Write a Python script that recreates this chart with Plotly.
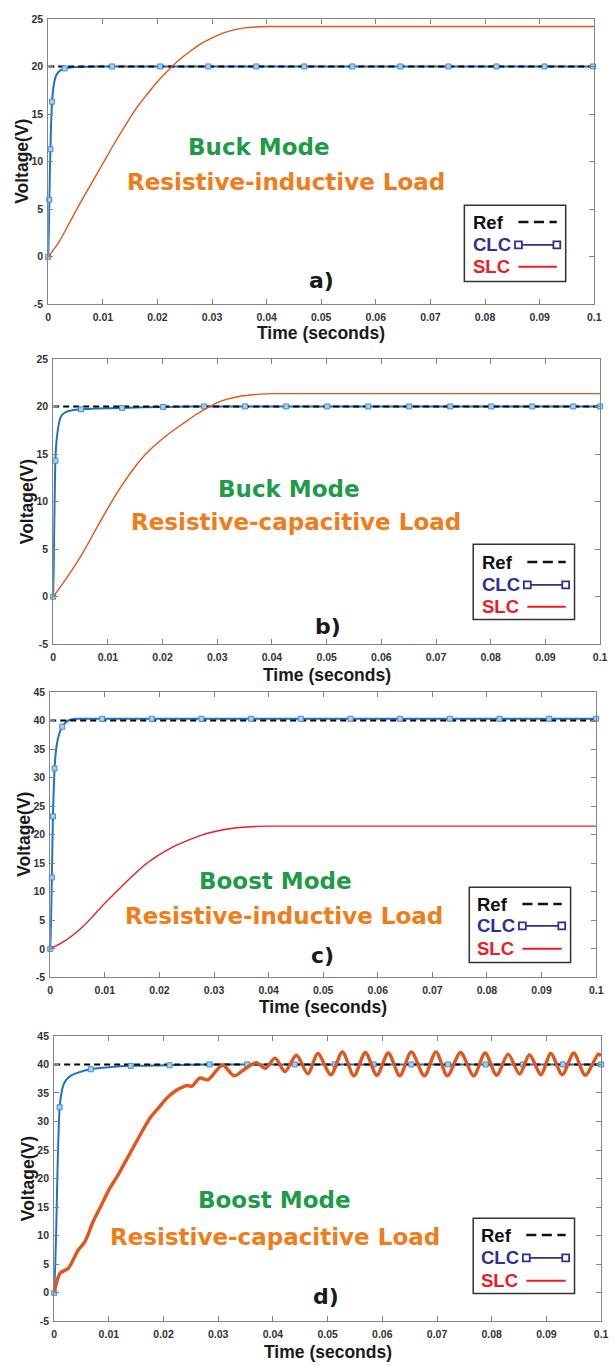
import plotly.graph_objects as go

W, H = 614, 1366

# ---------------- shared axis ticks ----------------
time_ticks = [0, 0.01, 0.02, 0.03, 0.04, 0.05, 0.06, 0.07, 0.08, 0.09, 0.1]
time_tick_text = ["0", "0.01", "0.02", "0.03", "0.04", "0.05", "0.06", "0.07", "0.08", "0.09", "0.1"]
volt_ticks_buck = [-5, 0, 5, 10, 15, 20, 25]
volt_ticks_boost = [-5, 0, 5, 10, 15, 20, 25, 30, 35, 40, 45]

# ---------------- a) Buck mode, resistive-inductive load ----------------
a_ref_t = [0, 0.1]
a_ref_v = [20, 20]
a_clc_t = [0, 0.0001, 0.0002, 0.0003, 0.0004, 0.0005, 0.0007, 0.001, 0.0014, 0.002, 0.003, 0.005, 0.01, 0.1]
a_clc_v = [0, 2.5, 6.0, 9.0, 11.3, 13.6, 16.3, 18.0, 19.0, 19.5, 19.8, 19.95, 20.0, 20.0]
a_mk_t = [0, 0.0002, 0.0004, 0.0007, 0.003, 0.0117, 0.0205, 0.0293, 0.0381, 0.0469,
          0.0557, 0.0645, 0.0733, 0.0821, 0.0909, 0.0998]
a_mk_v = [0, 6.0, 11.3, 16.3, 19.8, 20, 20, 20, 20, 20, 20, 20, 20, 20, 20, 20]
a_slc_t = [0, 0.002, 0.004, 0.006, 0.008, 0.010, 0.012, 0.014, 0.016, 0.018, 0.020, 0.022,
           0.024, 0.026, 0.028, 0.030, 0.032, 0.034, 0.036, 0.038, 0.040, 0.042, 0.1]
a_slc_v = [0, 1.6, 3.7, 5.8, 7.8, 9.8, 11.8, 13.7, 15.5, 17.0, 18.4, 19.6,
           20.7, 21.6, 22.4, 23.0, 23.5, 23.85, 24.05, 24.15, 24.2, 24.2, 24.2]

# ---------------- b) Buck mode, resistive-capacitive load ----------------
b_ref_t = [0, 0.1]
b_ref_v = [20, 20]
b_clc_t = [0, 0.0001, 0.0002, 0.0003, 0.0004, 0.0006, 0.0009, 0.0013, 0.0018, 0.0025,
           0.0035, 0.0051, 0.008, 0.0126, 0.0201, 0.03, 0.1]
b_clc_v = [0, 3.5, 7.5, 11.2, 14.3, 16.3, 17.7, 18.8, 19.2, 19.45,
           19.6, 19.7, 19.78, 19.85, 19.95, 20.0, 20.0]
b_mk_t = [0, 0.0004, 0.0051, 0.0126, 0.0201, 0.0276, 0.0351, 0.0426, 0.0501, 0.0576,
          0.0651, 0.0726, 0.0801, 0.0876, 0.0951, 0.1]
b_mk_v = [0, 14.3, 19.7, 19.85, 19.95, 20, 20, 20, 20, 20, 20, 20, 20, 20, 20, 20]
b_slc_t = [0, 0.002, 0.004, 0.006, 0.008, 0.010, 0.012, 0.014, 0.016, 0.018, 0.020, 0.022,
           0.024, 0.026, 0.028, 0.030, 0.032, 0.034, 0.036, 0.038, 0.040, 0.042, 0.1]
b_slc_v = [0, 1.6, 3.3, 5.2, 7.3, 9.3, 11.2, 12.9, 14.4, 15.6, 16.6, 17.5,
           18.3, 19.1, 19.8, 20.4, 20.8, 21.05, 21.2, 21.3, 21.35, 21.35, 21.35]

# ---------------- c) Boost mode, resistive-inductive load ----------------
c_ref_t = [0, 0.1]
c_ref_v = [40, 40]
c_clc_t = [0, 0.0001, 0.0002, 0.0003, 0.0004, 0.0005, 0.0006, 0.0008, 0.001, 0.0013,
           0.0017, 0.0022, 0.003, 0.004, 0.005, 0.1]
c_clc_v = [0, 3.0, 7.5, 12.5, 18.0, 23.2, 26.8, 31.6, 34.2, 36.3,
           37.8, 38.9, 39.8, 40.2, 40.3, 40.3]
c_mk_t = [0, 0.0003, 0.0005, 0.0008, 0.0022, 0.0095, 0.0186, 0.0277, 0.0368, 0.0459,
          0.055, 0.0641, 0.0732, 0.0823, 0.0914, 0.1]
c_mk_v = [0, 12.5, 23.2, 31.6, 38.9, 40.3, 40.3, 40.3, 40.3, 40.3, 40.3, 40.3, 40.3, 40.3, 40.3, 40.3]
c_slc_t = [0, 0.002, 0.004, 0.006, 0.008, 0.010, 0.012, 0.014, 0.016, 0.018, 0.020, 0.022,
           0.024, 0.026, 0.028, 0.030, 0.032, 0.034, 0.036, 0.038, 0.040, 0.1]
c_slc_v = [0, 1.0, 2.3, 3.9, 5.9, 8.0, 9.9, 11.8, 13.6, 15.2, 16.5, 17.6,
           18.5, 19.3, 20.0, 20.5, 20.9, 21.2, 21.35, 21.45, 21.5, 21.5]

# ---------------- d) Boost mode, resistive-capacitive load ----------------
d_ref_t = [0, 0.1]
d_ref_v = [40, 40]
d_clc_t = [0, 0.0002, 0.0004, 0.0006, 0.0008, 0.001, 0.0013, 0.0017, 0.0022, 0.003,
           0.0045, 0.0067, 0.01, 0.014, 0.0211, 0.0284, 0.04, 0.1]
d_clc_v = [0, 5, 12, 21, 28, 32.5, 34.8, 36.4, 37.3, 38.0,
           38.6, 39.15, 39.5, 39.75, 39.85, 40.0, 40.0, 40.0]
d_mk_t = [0, 0.001, 0.0067, 0.014, 0.0211, 0.0284, 0.0353, 0.044, 0.0513, 0.0584,
          0.0653, 0.072, 0.0789, 0.0857, 0.093, 0.1]
d_mk_v = [0, 32.5, 39.15, 39.75, 39.85, 40, 40, 40, 40, 40, 40, 40, 40, 40, 40, 40]
d_slc_t = [0, 0.0005, 0.0011, 0.0026, 0.0035, 0.0044, 0.0056, 0.0071, 0.0086, 0.0101,
           0.0116, 0.0131, 0.0146, 0.0161, 0.0176, 0.0191, 0.0206, 0.0221, 0.0232, 0.0242,
           0.0252, 0.0266, 0.0281, 0.0308, 0.0329, 0.0350, 0.0370, 0.0386, 0.0404, 0.0422,
           0.0443, 0.0464, 0.0482, 0.0506, 0.0527, 0.0548, 0.0569, 0.0590, 0.0611, 0.0632,
           0.0653, 0.0677, 0.0698, 0.0719, 0.0743, 0.0767, 0.0788, 0.0809, 0.0830, 0.0851,
           0.0869, 0.0890, 0.0908, 0.0929, 0.0950, 0.0971, 0.0995, 0.1]
d_slc_v = [0, 2.0, 3.45, 4.3, 5.8, 7.5, 8.9, 12.4, 15.3, 18.2,
           20.5, 23.1, 25.7, 28.3, 30.7, 32.4, 34.1, 35.3, 35.9, 36.3,
           36.2, 37.6, 37.3, 39.9, 38.0, 39.3, 40.3, 39.3, 41.1, 38.75,
           41.6, 38.35, 41.9, 38.2, 42.2, 38.0, 42.1, 38.1, 42.0, 38.0,
           42.2, 38.0, 42.2, 38.0, 42.1, 38.0, 42.0, 38.1, 41.8, 38.3,
           41.7, 38.2, 41.9, 38.2, 42.0, 38.1, 41.8, 41.5]

mode_titles = ["Buck Mode", "Buck Mode", "Boost Mode", "Boost Mode"]
load_titles = ["Resistive-inductive Load", "Resistive-capacitive Load",
               "Resistive-inductive Load", "Resistive-capacitive Load"]
panel_tags = ["a)", "b)", "c)", "d)"]
legend_names = ["Ref", "CLC", "SLC"]

# ---------------- styling ----------------
CLC_LINE = "#1c74c2"
CLC_MK_FILL = "#a9cdeb"
CLC_MK_EDGE = "#3f8ed3"
SLC_ORANGE = "#e0561c"
SLC_RED = "#ee1c25"
GREEN = "#1e9a48"
ORANGE_TXT = "#f07c1a"
AX_GRAY = "#858585"
TICK_TXT = "#333333"
LEG_NAVY = "#2e3192"
LEG_RED = "#ed1c24"
ARIAL = "Liberation Sans, Arial, sans-serif"
WIDE = "DejaVu Sans, sans-serif"

# pixel layout of each panel: plot box, text positions
panels = [
    dict(x0=46, x1=601, top=13, bot=301, ylo=-5, yhi=25, yt=volt_ticks_buck,
         mode=(260, 142), load=(288, 178), tag=(324, 277), xt=(323, 330), yl=(18.5, 157),
         leg=(469, 201, 572, 278), rows=(218, 241, 263), tl=476, smp=(524, 563)),
    dict(x0=51, x1=607, top=356, bot=644, ylo=-5, yhi=25, yt=volt_ticks_buck,
         mode=(291, 487), load=(298, 521), tag=(330, 626), xt=(329, 675), yl=(24, 500),
         leg=(478, 543, 581, 619), rows=(561, 584, 606), tl=485, smp=(533, 572)),
    dict(x0=48, x1=603, top=692, bot=980, ylo=-5, yhi=45, yt=volt_ticks_boost,
         mode=(277, 883), load=(286, 918), tag=(325, 958), xt=(325, 1010), yl=(20.5, 836),
         leg=(474, 889, 577, 965), rows=(906, 928, 951), tl=480, smp=(528, 568)),
    dict(x0=52, x1=608, top=1039, bot=1327, ylo=-5, yhi=45, yt=volt_ticks_boost,
         mode=(276, 1205), load=(277, 1242), tag=(328, 1302), xt=(330, 1358), yl=(25, 1183),
         leg=(478, 1223, 581, 1299), rows=(1240, 1263, 1286), tl=484, smp=(532, 572)),
]

series = [
    (a_ref_t, a_ref_v, a_clc_t, a_clc_v, a_mk_t, a_mk_v, a_slc_t, a_slc_v, SLC_ORANGE, 1.4),
    (b_ref_t, b_ref_v, b_clc_t, b_clc_v, b_mk_t, b_mk_v, b_slc_t, b_slc_v, SLC_ORANGE, 1.4),
    (c_ref_t, c_ref_v, c_clc_t, c_clc_v, c_mk_t, c_mk_v, c_slc_t, c_slc_v, SLC_RED, 1.4),
    (d_ref_t, d_ref_v, d_clc_t, d_clc_v, d_mk_t, d_mk_v, d_slc_t, d_slc_v, SLC_ORANGE, 3.4),
]


def px(x):
    return x / W


def py(y):
    return 1 - y / H


fig = go.Figure()
layout = dict(width=W, height=H, margin=dict(l=0, r=0, t=0, b=0),
              paper_bgcolor="white", plot_bgcolor="white", showlegend=False)
annotations = []
shapes = []

for i, (p, s) in enumerate(zip(panels, series), start=1):
    ref_t, ref_v, clc_t, clc_v, mk_t, mk_v, slc_t, slc_v, slc_col, slc_w = s
    xa, ya = f"x{i}", f"y{i}"

    fig.add_trace(go.Scatter(x=clc_t, y=clc_v, mode="lines", xaxis=xa, yaxis=ya,
                             line=dict(color=CLC_LINE, width=2.0, shape="spline", smoothing=0.6)))
    fig.add_trace(go.Scatter(x=ref_t, y=ref_v, mode="lines", xaxis=xa, yaxis=ya,
                             line=dict(color="black", width=2, dash="6px,4px")))
    fig.add_trace(go.Scatter(x=mk_t, y=mk_v, mode="markers", xaxis=xa, yaxis=ya, cliponaxis=False,
                             marker=dict(symbol="square", size=5, color=CLC_MK_FILL,
                                         line=dict(color=CLC_MK_EDGE, width=1))))
    fig.add_trace(go.Scatter(x=slc_t, y=slc_v, mode="lines", xaxis=xa, yaxis=ya,
                             line=dict(color=slc_col, width=slc_w, shape="spline", smoothing=0.8)))

    key = "" if i == 1 else str(i)
    tickfont = dict(family=ARIAL, size=10.5, color=TICK_TXT, weight="bold")
    layout[f"xaxis{key}"] = dict(
        domain=[px(p["x0"]), px(p["x1"])], anchor=ya, range=[0, 0.1],
        tickvals=time_ticks, ticktext=time_tick_text, ticks="inside", ticklen=5,
        tickcolor=AX_GRAY, showline=True, linecolor=AX_GRAY, linewidth=1, mirror="ticks",
        showgrid=False, zeroline=False, tickfont=tickfont, ticklabelstandoff=3)
    layout[f"yaxis{key}"] = dict(
        domain=[py(p["bot"]), py(p["top"])], anchor=xa, range=[p["ylo"], p["yhi"]],
        tickvals=p["yt"], ticktext=[str(v) for v in p["yt"]], ticks="inside", ticklen=5,
        tickcolor=AX_GRAY, showline=True, linecolor=AX_GRAY, linewidth=1, mirror="ticks",
        showgrid=False, zeroline=False, tickfont=tickfont, ticklabelstandoff=2)

    def note(text, pos, size, color, family, **kw):
        annotations.append(dict(text=text, x=px(pos[0]), y=py(pos[1]), xref="paper", yref="paper",
                                showarrow=False, xanchor=kw.pop("xanchor", "center"),
                                yanchor="middle", font=dict(family=family, size=size, color=color,
                                                            weight="bold"), **kw))

    note(mode_titles[i - 1], p["mode"], 23, GREEN, WIDE)
    note(load_titles[i - 1], p["load"], 23, ORANGE_TXT, WIDE)
    note(panel_tags[i - 1], p["tag"], 22, "#1a1a1a", WIDE)
    note("Time (seconds)", p["xt"], 17.5, "#1a1a1a", ARIAL)
    note("Voltage(V)", p["yl"], 17.5, "#1a1a1a", ARIAL, textangle=-90)

    # legend box with text first and line sample on the right
    lx0, ly0, lx1, ly1 = p["leg"]
    shapes.append(dict(type="rect", xref="paper", yref="paper", x0=px(lx0), x1=px(lx1),
                       y0=py(ly1), y1=py(ly0), line=dict(color="#333333", width=1.5),
                       fillcolor="white", layer="above"))
    colors = ["#111111", LEG_NAVY, LEG_RED]
    for name, row, col in zip(legend_names, p["rows"], colors):
        note(name, (p["tl"], row), 18.5, col, ARIAL, xanchor="left")
    s0, s1 = p["smp"]
    r_ref, r_clc, r_slc = p["rows"]
    shapes.append(dict(type="line", xref="paper", yref="paper", x0=px(s0), x1=px(s1),
                       y0=py(r_ref), y1=py(r_ref), line=dict(color="#111111", width=2.5, dash="10px,5.5px"),
                       layer="above"))
    shapes.append(dict(type="line", xref="paper", yref="paper", x0=px(s0), x1=px(s1),
                       y0=py(r_clc), y1=py(r_clc), line=dict(color=LEG_NAVY, width=1.8), layer="above"))
    for cx in (s0, s1):
        shapes.append(dict(type="rect", xref="paper", yref="paper", x0=px(cx - 3.5), x1=px(cx + 3.5),
                           y0=py(r_clc + 3.5), y1=py(r_clc - 3.5), fillcolor="white",
                           line=dict(color=LEG_NAVY, width=1.8), layer="above"))
    shapes.append(dict(type="line", xref="paper", yref="paper", x0=px(s0), x1=px(s1),
                       y0=py(r_slc), y1=py(r_slc), line=dict(color=LEG_RED, width=2), layer="above"))

layout["annotations"] = annotations
layout["shapes"] = shapes
fig.update_layout(**layout)
fig.write_html("out.html")
